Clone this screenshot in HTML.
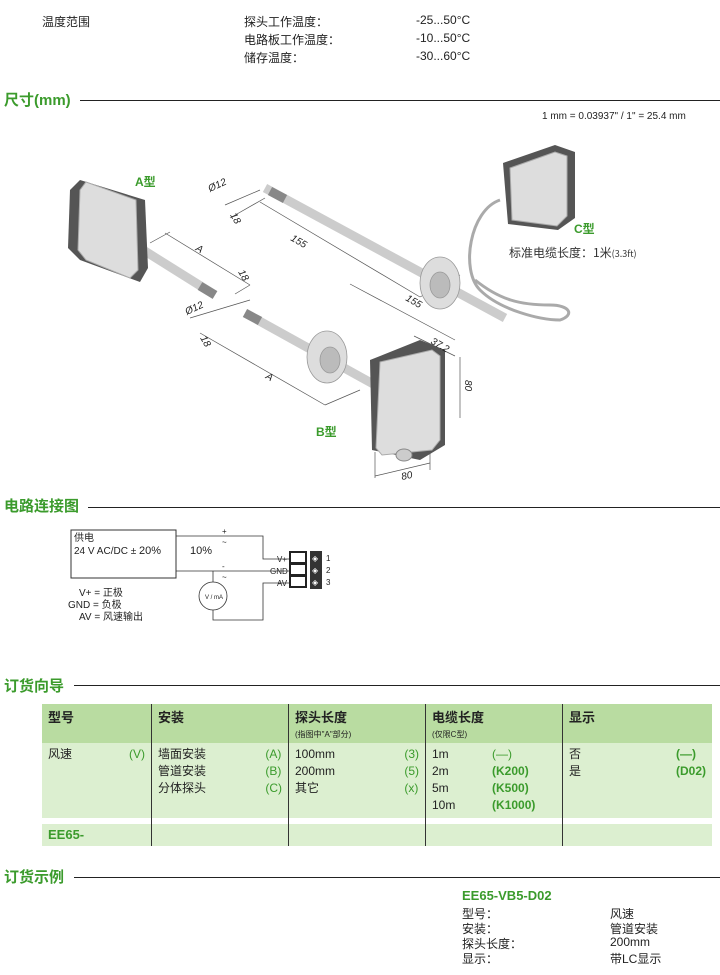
<!DOCTYPE html>
<html><head><meta charset="utf-8"><style>
body{margin:0;width:720px;height:975px;background:#fff;font-family:"Liberation Sans","Noto Sans CJK SC",sans-serif;position:relative;overflow:hidden;color:#222}
.t{position:absolute;font-size:12px;white-space:nowrap}
.h{position:absolute;left:4px;font-size:15px;font-weight:bold;color:#3b9b2c}
.hl{position:absolute;height:1px;background:#222;right:0}
table{position:absolute;left:42px;top:704px;width:670px;border-collapse:collapse;font-size:12px}
td{vertical-align:top;padding:3px 6px;border-left:1px solid #333}
td:first-child{border-left:none}
.g{color:#3b9b2c}
.r{float:right}
</style></head><body>
<div class="t" style="left:42px;top:13px">温度范围</div>
<div class="t" style="left:244px;top:13px">探头工作温度：</div>
<div class="t" style="left:244px;top:31px">电路板工作温度：</div>
<div class="t" style="left:244px;top:49px">储存温度：</div>
<div class="t" style="left:416px;top:13px">-25...50°C</div>
<div class="t" style="left:416px;top:31px">-10...50°C</div>
<div class="t" style="left:416px;top:49px">-30...60°C</div>

<div class="h" style="top:89px">尺寸(mm)</div><div class="hl" style="left:80px;top:100px"></div>
<div class="t" style="left:542px;top:111px;font-size:10px">1 mm = 0.03937" / 1" = 25.4 mm</div>

<svg style="position:absolute;left:0;top:130px" width="720" height="360" viewBox="0 130 720 360">
<g stroke="#555" stroke-width="0.7" fill="none">
<line x1="165" y1="233" x2="250" y2="285"/><line x1="150" y1="243" x2="170" y2="232"/>
<line x1="250" y1="285" x2="235" y2="294"/>
<line x1="260" y1="202" x2="420" y2="297"/><line x1="230" y1="218" x2="265" y2="198"/>
<line x1="420" y1="297" x2="460" y2="275"/>
<line x1="350" y1="284" x2="455" y2="340"/>
<line x1="200" y1="333" x2="325" y2="405"/><line x1="325" y1="405" x2="360" y2="390"/>
<line x1="414" y1="336" x2="455" y2="356"/><line x1="460" y1="357" x2="460" y2="418"/>
<line x1="375" y1="452" x2="375" y2="478"/><line x1="430" y1="445" x2="430" y2="470"/><line x1="375" y1="476" x2="430" y2="463"/>
<line x1="190" y1="318" x2="250" y2="300"/><line x1="225" y1="205" x2="260" y2="190"/>
</g>
<path d="M500 200 C470 210 460 270 480 290 C500 310 540 320 560 320 C575 315 570 305 550 305 C520 305 500 300 475 280" stroke="#aaa" stroke-width="3" fill="none"/>
<g stroke="#999" stroke-width="0.8">
<line x1="265" y1="188" x2="505" y2="318" stroke="#ccc" stroke-width="9"/>
<line x1="270" y1="191" x2="285" y2="199" stroke="#888" stroke-width="9"/>
<line x1="140" y1="248" x2="215" y2="295" stroke="#ccc" stroke-width="9"/>
<line x1="200" y1="286" x2="215" y2="295" stroke="#888" stroke-width="9"/>
<line x1="245" y1="313" x2="375" y2="385" stroke="#ccc" stroke-width="9"/>
<line x1="245" y1="313" x2="260" y2="321" stroke="#888" stroke-width="9"/>
<ellipse cx="440" cy="283" rx="20" ry="26" fill="#ddd"/><ellipse cx="440" cy="285" rx="10" ry="13" fill="#bbb"/>
<ellipse cx="327" cy="357" rx="20" ry="26" fill="#ddd"/><ellipse cx="330" cy="360" rx="10" ry="13" fill="#bbb"/>
</g>
<polygon points="80,180 145,200 148,268 140,282 80,260 68,248 70,190" fill="#555"/>
<polygon points="86,182 136,200 138,270 130,278 86,260 78,250 80,190" fill="#ddd" stroke="#aaa"/>
<polygon points="370,360 420,340 445,350 445,445 420,460 372,450" fill="#555"/>
<polygon points="380,362 432,350 440,356 440,440 432,450 382,455 376,448" fill="#ddd" stroke="#aaa"/>
<ellipse cx="404" cy="455" rx="8" ry="6" fill="#ccc" stroke="#888"/>
<polygon points="503,163 555,145 575,152 575,218 558,230 508,224" fill="#555"/>
<polygon points="510,168 555,152 567,156 567,216 557,226 512,220" fill="#ddd" stroke="#aaa"/>
<g font-family="Liberation Sans" font-size="10" fill="#222" font-style="italic">
<text x="210" y="192" transform="rotate(-25 210 192)">Ø12</text>
<text x="230" y="215" transform="rotate(60 230 215)">18</text>
<text x="290" y="240" transform="rotate(30 290 240)">155</text>
<text x="405" y="300" transform="rotate(30 405 300)">155</text>
<text x="195" y="250" transform="rotate(30 195 250)">A</text>
<text x="238" y="272" transform="rotate(60 238 272)">18</text>
<text x="187" y="315" transform="rotate(-25 187 315)">Ø12</text>
<text x="200" y="338" transform="rotate(60 200 338)">18</text>
<text x="265" y="378" transform="rotate(30 265 378)">A</text>
<text x="430" y="343" transform="rotate(30 430 343)">37.2</text>
<text x="465" y="380" transform="rotate(90 465 380)">80</text>
<text x="402" y="480" transform="rotate(-12 402 480)">80</text>
</g>
<g font-family="Liberation Sans,Noto Sans CJK SC" font-weight="bold" fill="#3b9b2c" font-size="12">
<text x="135" y="186">A型</text><text x="316" y="436">B型</text><text x="574" y="233">C型</text>
</g>
<text x="509" y="257" font-family="Noto Sans CJK SC" font-size="12" fill="#333">标准电缆长度：1米<tspan font-size="9">(3.3ft)</tspan></text>
</svg>

<div class="h" style="top:495px">电路连接图</div><div class="hl" style="left:88px;top:507px"></div>
<svg style="position:absolute;left:0;top:520px" width="360" height="110" viewBox="0 520 360 110" font-family="Liberation Sans,Noto Sans CJK SC">
<rect x="71" y="530" width="105" height="48" fill="#fff" stroke="#333"/>
<g stroke="#333" fill="none" stroke-width="0.8">
<polyline points="176,536 263,536 263,559 290,559"/>
<polyline points="176,571 290,571"/>
<polyline points="213,571 213,582"/><circle cx="213" cy="596" r="14"/>
<polyline points="213,610 213,620 263,620 263,583 290,583"/>
</g>
<rect x="290" y="552" width="16" height="11" fill="#fff" stroke="#222" stroke-width="2"/>
<rect x="290" y="564" width="16" height="11" fill="#fff" stroke="#222" stroke-width="2"/>
<rect x="290" y="576" width="16" height="11" fill="#fff" stroke="#222" stroke-width="2"/>
<rect x="310" y="551" width="12" height="38" fill="#333"/>
<g font-size="8" fill="#fff"><text x="312" y="561">◈</text><text x="312" y="573">◈</text><text x="312" y="585">◈</text></g>
<g font-size="8" fill="#222"><text x="277" y="562">V+</text><text x="270" y="574">GND</text><text x="277" y="586">AV</text>
<text x="326" y="561">1</text><text x="326" y="573">2</text><text x="326" y="585">3</text>
<text x="222" y="534">+</text><text x="222" y="545">~</text><text x="222" y="569">-</text><text x="222" y="580">~</text>
<text x="205" y="599" font-size="6">V / mA</text></g>
<g font-size="10" fill="#222"><text x="74" y="541">供电</text><text x="74" y="554">24 V AC/DC ± <tspan font-size="11">20%</tspan></text>
<text x="190" y="554" font-size="11">10%</text>
<text x="79" y="596">V+ = 正极</text><text x="68" y="608">GND = 负极</text><text x="79" y="620">AV = 风速输出</text></g>
</svg>

<div class="h" style="top:675px">订货向导</div><div class="hl" style="left:74px;top:685px"></div>
<table>
<tr style="background:#b9dca1;height:38px"><td style="width:97px"><b style="font-size:13px">型号</b></td><td style="width:124px"><b style="font-size:13px">安装</b></td><td style="width:124px"><b style="font-size:13px">探头长度</b><br><span style="font-size:8px">(指图中"A"部分)</span></td><td style="width:124px"><b style="font-size:13px">电缆长度</b><br><span style="font-size:8px">(仅限C型)</span></td><td><b style="font-size:13px">显示</b></td></tr>
<tr style="background:#dcefd0;height:75px;line-height:17px"><td>风速 <span class="g r">(V)</span></td>
<td><span class="g r">(A)<br>(B)<br>(C)</span>墙面安装<br>管道安装<br>分体探头</td>
<td><span class="g r">(3)<br>(5)<br>(x)</span>100mm<br>200mm<br>其它</td>
<td>1m &nbsp; &nbsp; &nbsp; &nbsp; &nbsp; &nbsp; <span class="g">(—)</span><br>2m &nbsp; &nbsp; &nbsp; &nbsp; &nbsp; &nbsp; <b class="g">(K200)</b><br>5m &nbsp; &nbsp; &nbsp; &nbsp; &nbsp; &nbsp; <b class="g">(K500)</b><br>10m &nbsp; &nbsp; &nbsp; &nbsp; &nbsp; <b class="g">(K1000)</b></td>
<td><b class="g r">(—)<br>(D02)</b>否<br>是</td></tr>
<tr style="height:4px;background:#fff"><td></td><td></td><td></td><td></td><td></td></tr>
<tr style="background:#dcefd0;height:22px"><td><b class="g" style="font-size:13px">EE65-</b></td><td></td><td></td><td></td><td></td></tr>
</table>

<div class="h" style="top:866px">订货示例</div><div class="hl" style="left:74px;top:877px"></div>
<div class="t" style="left:462px;top:888px;font-weight:bold;color:#3b9b2c;font-size:13px">EE65-VB5-D02</div>
<div class="t" style="left:462px;top:905px">型号：</div><div class="t" style="left:610px;top:905px">风速</div>
<div class="t" style="left:462px;top:920px">安装：</div><div class="t" style="left:610px;top:920px">管道安装</div>
<div class="t" style="left:462px;top:935px">探头长度：</div><div class="t" style="left:610px;top:935px">200mm</div>
<div class="t" style="left:462px;top:950px">显示：</div><div class="t" style="left:610px;top:950px">带LC显示</div>
</body></html>
